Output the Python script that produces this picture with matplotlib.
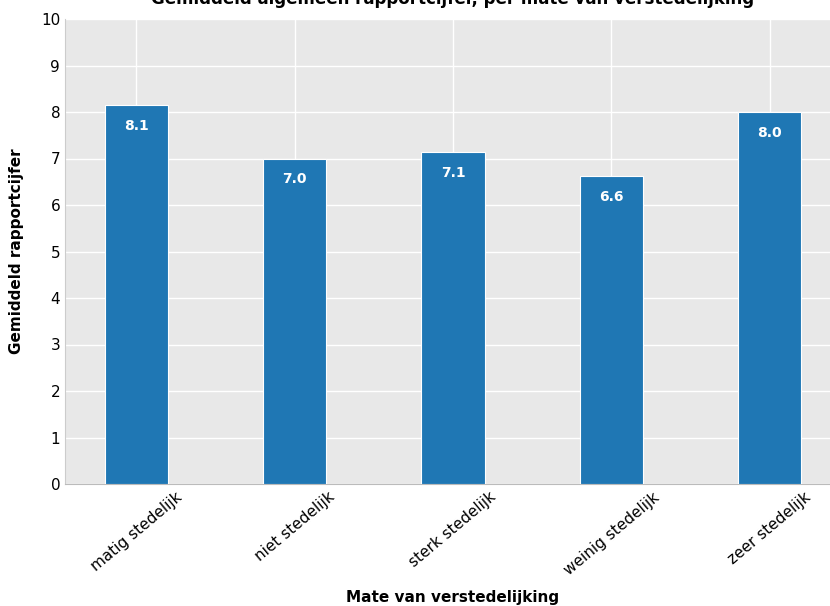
import matplotlib
matplotlib.use('Agg')
import matplotlib.pyplot as plt

categories = ['matig stedelijk', 'niet stedelijk', 'sterk stedelijk', 'weinig stedelijk', 'zeer stedelijk']
values = [8.14, 6.99, 7.13, 6.62, 7.99]

fig = plt.figure(figsize=(8.3, 6.06), dpi=100)
ax = fig.add_axes([65 / 830, 1 - 484 / 606, 776 / 830, 465 / 606])
ax.set_facecolor('#e8e8e8')

bars = ax.bar(range(len(categories)), values, width=0.4, color='#1f77b4',
              edgecolor='white', linewidth=0.8, zorder=3)
for b, v in zip(bars, values):
    ax.text(b.get_x() + b.get_width() / 2, v - 0.44, f'{v:.1f}', ha='center', va='center',
            color='white', fontsize=10, fontweight='bold', zorder=4)

ax.set_xlim(-0.45, 4.45)
ax.set_ylim(0, 10)
ax.set_yticks(range(11))
ax.set_xticks(range(len(categories)))
ax.set_xticklabels(categories, rotation=40, ha='center', fontsize=11)
ax.tick_params(axis='y', labelsize=11, length=0)
ax.tick_params(axis='x', length=0, pad=4)
ax.grid(True, color='white', linewidth=1, zorder=0)
for s in ['top', 'right']:
    ax.spines[s].set_visible(False)
ax.spines['left'].set_color('#cccccc')
ax.spines['bottom'].set_color('#bbbbbb')

ax.set_title('Gemiddeld algemeen rapportcijfer, per mate van verstedelijking',
             fontsize=12, fontweight='bold', pad=11)
ax.set_xlabel('Mate van verstedelijking', fontsize=11, fontweight='bold', labelpad=9)
ax.set_ylabel('Gemiddeld rapportcijfer', fontsize=11, fontweight='bold', labelpad=12)

fig.savefig('out.png', dpi=100)
